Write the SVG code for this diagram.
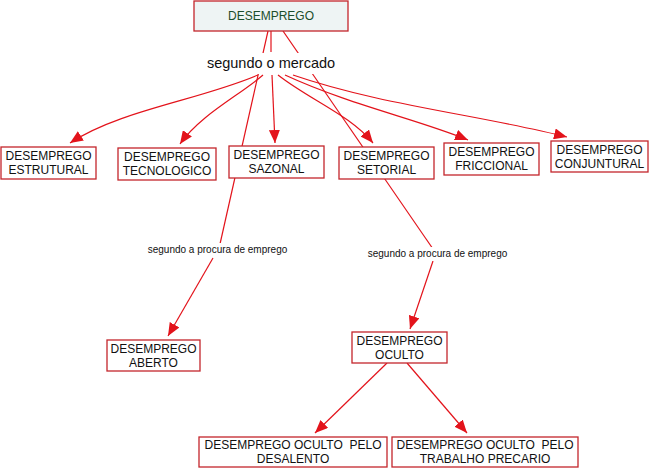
<svg xmlns="http://www.w3.org/2000/svg" width="651" height="470" viewBox="0 0 651 470">
<style>
.box{fill:#ffffff;stroke:#c4262c;stroke-width:1.3}
.t{font-family:"Liberation Sans",Arial,sans-serif;font-size:12px;fill:#111;text-anchor:middle}
.lbl{font-family:"Liberation Sans",Arial,sans-serif;fill:#111;text-anchor:middle}
.c{fill:none;stroke:#e3131b;stroke-width:1.2}
</style>
<defs>
<marker id="ah" markerUnits="userSpaceOnUse" markerWidth="13" markerHeight="11" refX="13" refY="5.5" orient="auto">
<path d="M0,0 L13,5.5 L0,11 z" fill="#e3131b"/>
</marker>
</defs>
<rect width="651" height="470" fill="#ffffff"/>
<g id="connectors">
<path class="c" d="M271,31 L271,52" stroke-width="3"/>
<path class="c" d="M268,31 L220,244"/>
<path class="c" d="M283,31 L433,249"/>
<path class="c" d="M258,75 C200,100 120,110 70,143" marker-end="url(#ah)"/>
<path class="c" d="M263,75 C240,95 200,115 180,144" marker-end="url(#ah)"/>
<path class="c" d="M272,75 L275,143" marker-end="url(#ah)"/>
<path class="c" d="M278,75 C310,100 350,115 373,143" marker-end="url(#ah)"/>
<path class="c" d="M285,75 C350,105 420,120 468,140" marker-end="url(#ah)"/>
<path class="c" d="M293,75 C380,105 480,115 567,137" marker-end="url(#ah)"/>
<path class="c" d="M213,258 L168,336" marker-end="url(#ah)"/>
<path class="c" d="M433,261 L410,329" marker-end="url(#ah)"/>
<path class="c" d="M387,363 L315,433" marker-end="url(#ah)"/>
<path class="c" d="M407,363 L467,433" marker-end="url(#ah)"/>
</g>
<g id="n-desemprego">
<rect x="194" y="1" width="154" height="30" fill="#eef4f4" stroke="#c4262c" stroke-width="1.3"/>
<text class="t" x="271" y="20" fill="#1b4d2b" style="fill:#1b4d2b">DESEMPREGO</text>
</g>
<g id="l-mercado">
<rect x="207" y="53" width="128" height="21" fill="#ffffff"/>
<text class="lbl" x="271" y="68" font-size="14.5">segundo o mercado</text>
</g>
<g id="n-estrutural">
<rect class="box" x="1" y="147" width="95" height="32"/>
<text class="t" x="48.5" y="160">DESEMPREGO</text>
<text class="t" x="48.5" y="174">ESTRUTURAL</text>
</g>
<g id="n-tecnologico">
<rect class="box" x="118" y="148" width="98" height="32"/>
<text class="t" x="167" y="161">DESEMPREGO</text>
<text class="t" x="167" y="175">TECNOLOGICO</text>
</g>
<g id="n-sazonal">
<rect class="box" x="229" y="146" width="95" height="32"/>
<text class="t" x="276.5" y="159">DESEMPREGO</text>
<text class="t" x="276.5" y="173">SAZONAL</text>
</g>
<g id="n-setorial">
<rect class="box" x="339" y="147" width="95" height="32"/>
<text class="t" x="386.5" y="160">DESEMPREGO</text>
<text class="t" x="386.5" y="174">SETORIAL</text>
</g>
<g id="n-friccional">
<rect class="box" x="444" y="143" width="95" height="32"/>
<text class="t" x="491.5" y="156">DESEMPREGO</text>
<text class="t" x="491.5" y="170">FRICCIONAL</text>
</g>
<g id="n-conjuntural">
<rect class="box" x="551" y="141" width="97" height="31"/>
<text class="t" x="599.5" y="154">DESEMPREGO</text>
<text class="t" x="599.5" y="168">CONJUNTURAL</text>
</g>
<g id="l-procura1">
<rect x="146" y="243" width="143" height="14" fill="#ffffff"/>
<text class="lbl" x="217.5" y="253" font-size="10">segundo a procura de emprego</text>
</g>
<g id="l-procura2">
<rect x="366" y="247" width="143" height="14" fill="#ffffff"/>
<text class="lbl" x="437.5" y="257" font-size="10">segundo a procura de emprego</text>
</g>
<g id="n-aberto">
<rect class="box" x="107" y="340" width="93" height="31"/>
<text class="t" x="153.5" y="353">DESEMPREGO</text>
<text class="t" x="153.5" y="367">ABERTO</text>
</g>
<g id="n-oculto">
<rect class="box" x="352" y="332" width="95" height="31"/>
<text class="t" x="399.5" y="345">DESEMPREGO</text>
<text class="t" x="399.5" y="359">OCULTO</text>
</g>
<g id="n-desalento">
<rect class="box" x="199" y="437" width="188" height="30"/>
<text class="t" x="293" y="449" xml:space="preserve">DESEMPREGO OCULTO  PELO</text>
<text class="t" x="293" y="463">DESALENTO</text>
</g>
<g id="n-trabalho">
<rect class="box" x="392" y="437" width="186" height="30"/>
<text class="t" x="485" y="449" xml:space="preserve">DESEMPREGO OCULTO  PELO</text>
<text class="t" x="485" y="463">TRABALHO PRECARIO</text>
</g>
</svg>
